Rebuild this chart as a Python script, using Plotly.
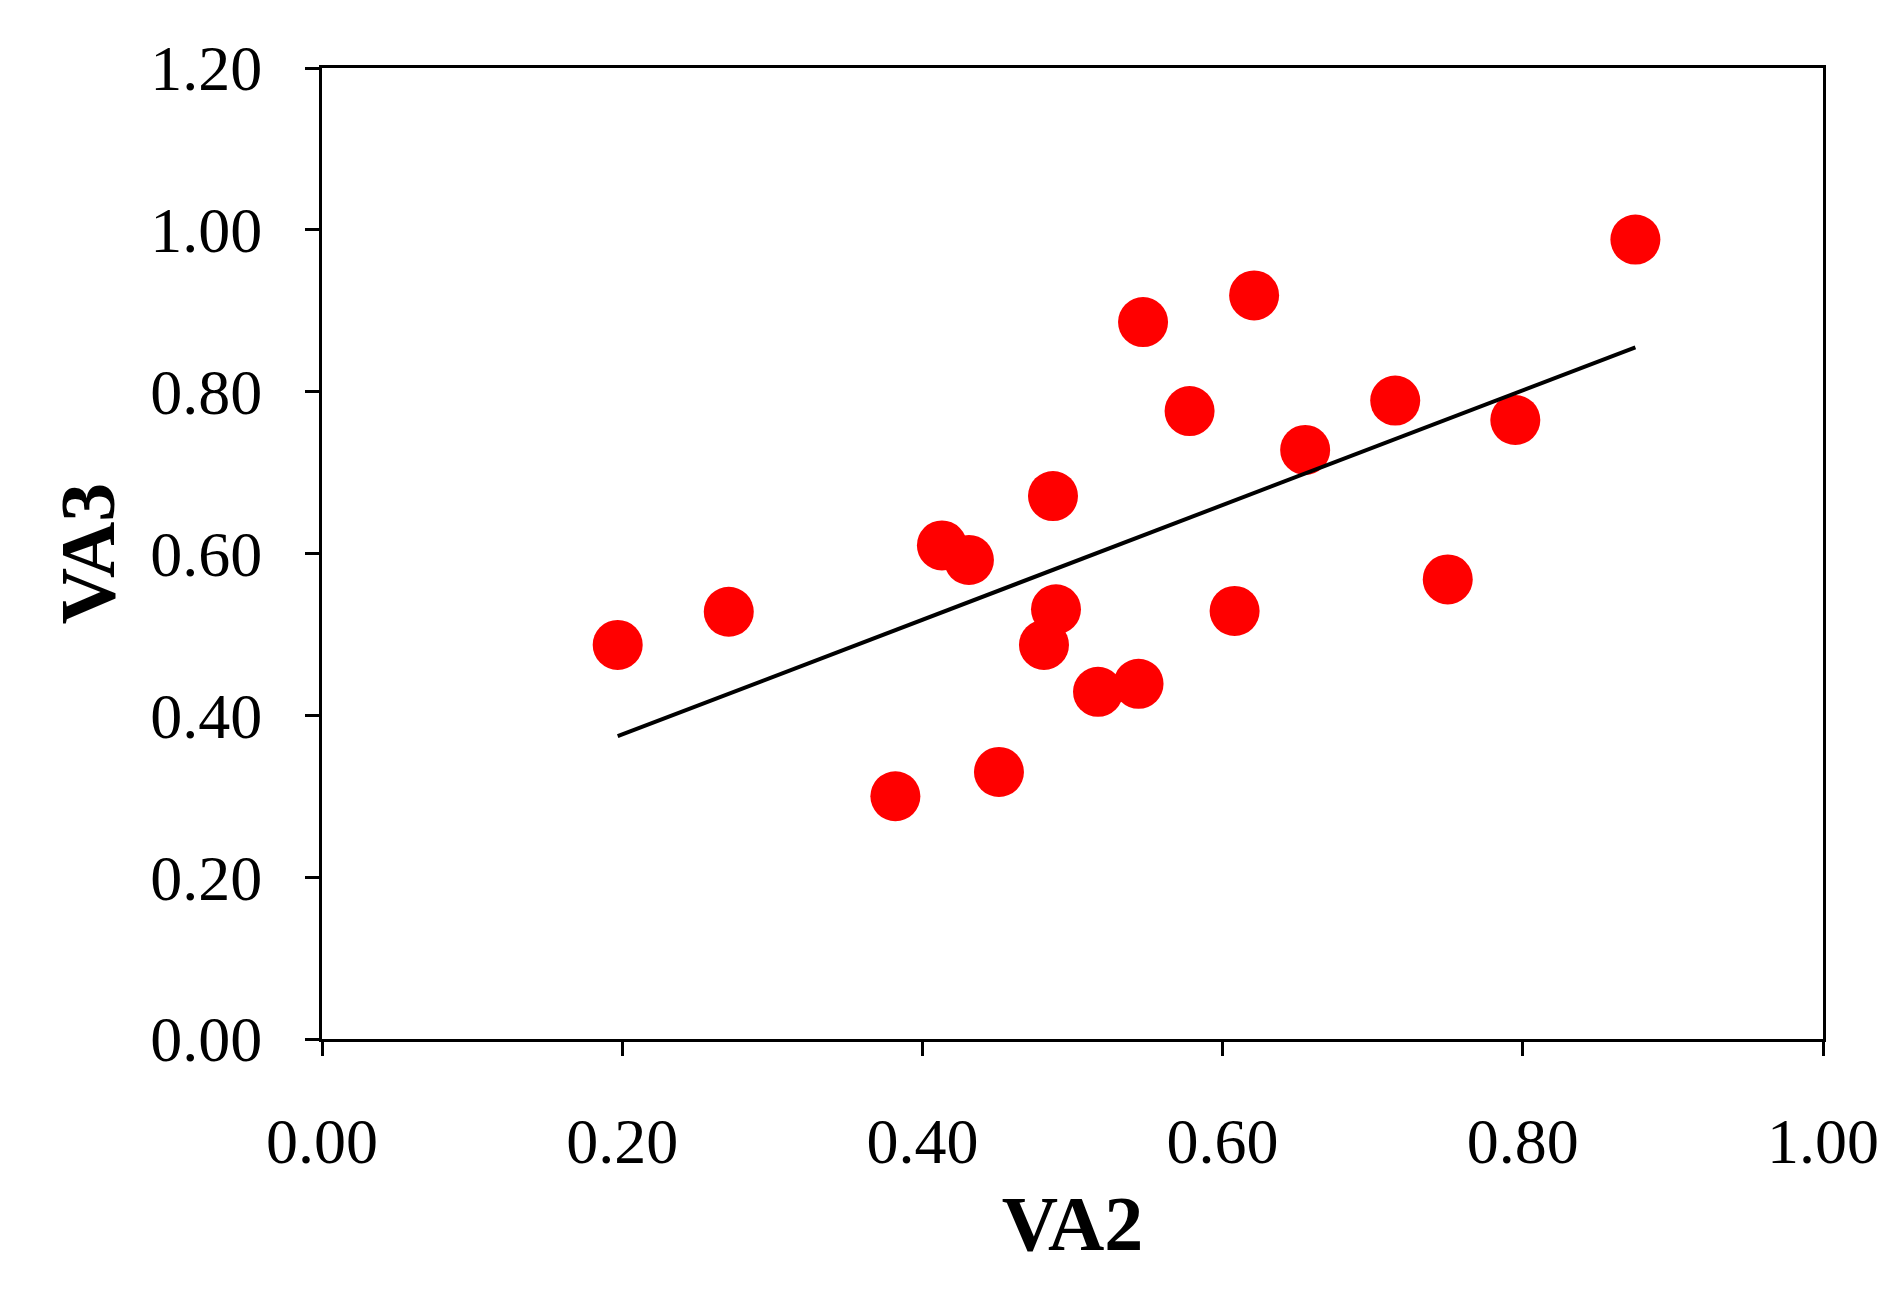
import numpy as np
import plotly.graph_objects as go

va2 = [0.197, 0.271, 0.382, 0.413, 0.431, 0.451, 0.487, 0.489, 0.481, 0.517,
       0.544, 0.547, 0.578, 0.608, 0.621, 0.655, 0.715, 0.750, 0.795, 0.875]
va3 = [0.487, 0.528, 0.300, 0.610, 0.592, 0.330, 0.671, 0.531, 0.487, 0.429,
       0.439, 0.886, 0.776, 0.529, 0.919, 0.728, 0.789, 0.568, 0.765, 0.988]
tick_vals_x = [0.0, 0.2, 0.4, 0.6, 0.8, 1.0]
tick_vals_y = [0.0, 0.2, 0.4, 0.6, 0.8, 1.0, 1.2]

slope, intercept = np.polyfit(va2, va3, 1)
xl = [min(va2), max(va2)]
yl = [slope * v + intercept for v in xl]

fig = go.Figure()
fig.add_trace(go.Scatter(x=va2, y=va3, mode="markers",
                         marker=dict(color="#ff0000", size=50, line=dict(width=0))))
fig.add_trace(go.Scatter(x=xl, y=yl, mode="lines", line=dict(color="black", width=4)))

font = dict(family="Liberation Serif", color="black")
axcommon = dict(showgrid=False, zeroline=False, showline=True, linecolor="black", linewidth=3,
                ticks="outside", ticklen=14, tickwidth=3, tickcolor="black",
                tickformat=".2f", tickfont=dict(size=64, **font))
fig.update_xaxes(range=[0, 1], tickvals=tick_vals_x, mirror=True, ticklabelstandoff=30,
                 title=dict(text="<b>VA2</b>", font=dict(size=78, **font), standoff=20), **axcommon)
fig.update_yaxes(range=[0, 1.2], tickvals=tick_vals_y, mirror=True, ticklabelstandoff=30,
                 title=dict(text="<b>VA3</b>", font=dict(size=78, **font), standoff=10), **axcommon)
fig.update_layout(width=1899, height=1304, showlegend=False,
                  plot_bgcolor="white", paper_bgcolor="white",
                  margin=dict(l=314, r=84, t=60, b=273))
fig.write_html("out.html")
